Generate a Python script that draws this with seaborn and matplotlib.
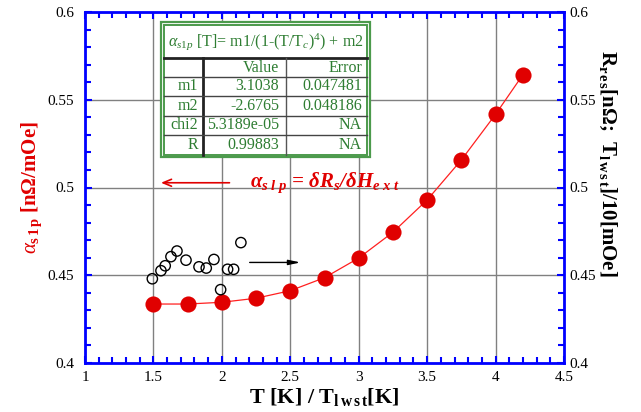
import numpy as np
import pandas as pd
import matplotlib
matplotlib.use("Agg")
import matplotlib.pyplot as plt
import seaborn as sns
from matplotlib.ticker import MultipleLocator
from matplotlib.patches import Rectangle

# ---------------- data ----------------
T_alpha = [1.5, 1.75, 2.0, 2.25, 2.5, 2.75, 3.0, 3.25, 3.5, 3.75, 4.0, 4.2]
alpha_slp = [0.4336, 0.4336, 0.4346, 0.4369, 0.4412, 0.4486, 0.4598, 0.4745,
             0.4929, 0.5157, 0.5417, 0.5643]
T_res = [1.492, 1.555, 1.586, 1.628, 1.672, 1.738, 1.833, 1.886, 1.942,
         1.991, 2.042, 2.086, 2.139]
R_res = [0.4480, 0.4526, 0.4554, 0.4606, 0.4638, 0.4586, 0.4548, 0.4541,
         0.4590, 0.4418, 0.4534, 0.4534, 0.4686]

x_ticks = [1, 1.5, 2, 2.5, 3, 3.5, 4, 4.5]
x_tick_labels = ["1", "1.5", "2", "2.5", "3", "3.5", "4", "4.5"]
y_ticks = [0.4, 0.45, 0.5, 0.55, 0.6]
y_tick_labels = ["0.4", "0.45", "0.5", "0.55", "0.6"]

fit_title = r"$\alpha_{s1p}$ [T]= m1/(1-(T/T$_c$)$^4$) + m2"
tbl_header = ["", "Value", "Error"]
tbl_names = ["m1", "m2", "chi2", "R"]
tbl_values = ["3.1038", "-2.6765", "5.3189e-05", "0.99883"]
tbl_errors = ["0.047481", "0.048186", "NA", "NA"]

# ---------------- style ----------------
plt.rcParams.update({
    "mathtext.fontset": "custom",
    "mathtext.rm": "Liberation Serif",
    "mathtext.it": "Liberation Serif:italic",
    "mathtext.bf": "Liberation Serif:bold",
    "mathtext.bfit": "Liberation Serif:italic:bold",
})
plt.rcParams["font.family"] = ["Liberation Serif", "DejaVu Serif"]

RED = "#e00000"
BLUE = "#0000ff"
GREEN = "#2e7d32"
GRID = "#808080"

W, H = 641, 412
fig = plt.figure(figsize=(W / 100, H / 100), dpi=100)
L, R_, T_, B_ = 85, 564, 12, 363
ax = fig.add_axes([L / W, 1 - B_ / H, (R_ - L) / W, (B_ - T_) / H])

df_a = pd.DataFrame({"T": T_alpha, "a": alpha_slp})
df_r = pd.DataFrame({"T": T_res, "r": R_res})

sns.lineplot(data=df_a, x="T", y="a", ax=ax, color="#ff2020", lw=0.9,
             zorder=3, legend=False)
sns.scatterplot(data=df_a, x="T", y="a", ax=ax, color=RED, s=135,
                edgecolor=RED, linewidth=0, zorder=4, legend=False)
sns.scatterplot(data=df_r, x="T", y="r", ax=ax, facecolor="none",
                edgecolor="black", s=55, linewidth=1.0, zorder=4, legend=False)

ax.set_xlim(1, 4.5)
ax.set_ylim(0.4, 0.6)
ax.set_xticks(x_ticks)
ax.set_xticklabels(x_tick_labels)
ax.set_yticks(y_ticks)
ax.set_yticklabels(y_tick_labels)
ax.xaxis.set_minor_locator(MultipleLocator(0.1))
ax.yaxis.set_minor_locator(MultipleLocator(0.01))
ax.grid(True, which="major", color=GRID, lw=1.0, zorder=0)
ax.set_axisbelow(True)
for sp in ax.spines.values():
    sp.set_color(BLUE)
    sp.set_linewidth(2)
ax.tick_params(which="both", direction="in", color=BLUE, width=1.5,
               top=True, right=True, labelsize=11, labelcolor="black")
ax.tick_params(which="major", length=5)
ax.tick_params(which="minor", length=4)
ax.tick_params(axis="y", pad=8)
ax.tick_params(axis="x", pad=6)

ax2 = ax.twinx()
ax2.set_ylim(0.4, 0.6)
ax2.set_yticks(y_ticks)
ax2.set_yticklabels(y_tick_labels)
ax2.yaxis.set_minor_locator(MultipleLocator(0.01))
ax2.tick_params(which="both", direction="in", color=BLUE, width=1.5,
                labelsize=11, pad=4)
ax2.tick_params(which="major", length=5)
ax2.tick_params(which="minor", length=4)
for sp in ax2.spines.values():
    sp.set_visible(False)

ax.set_xlabel(r"T [K] / T$_{\mathbf{l\,w\,s\,t}}$[K]", fontsize=16,
              fontweight="bold", labelpad=1)
ax.set_ylabel(r"$\alpha_{\mathbf{s\,1\,p}}$ [nΩ/mOe]", fontsize=15,
              fontweight="bold", color=RED, labelpad=2)
ax2.set_ylabel(r"R$_{\mathbf{r\,e\,s}}$[nΩ;  T$_{\mathbf{l\,w\,s\,t}}$]/10[mOe]",
               fontsize=15, fontweight="bold", rotation=270, labelpad=26)
ax2.yaxis.set_label_coords(1.115, 0.57)

# annotations
ax.annotate("", xy=(1.535, 0.5027), xytext=(2.076, 0.5027),
            arrowprops=dict(arrowstyle="->,head_length=0.6,head_width=0.25",
                            color=RED, lw=1.2))
ax.annotate("", xy=(2.595, 0.4573), xytext=(2.183, 0.4573),
            arrowprops=dict(arrowstyle="-|>,head_length=0.7,head_width=0.15",
                            color="black", lw=1.0))
ax.text(2.205, 0.5003,
        r"$\mathbfit{\alpha}_{\mathbfit{s\,\,l\,\,p}}$ = $\mathbfit{\delta R}_{\mathbfit{s}}\mathbfit{/\delta H}_{\mathbfit{e\,\,x\,\,t}}$",
        color=RED, fontsize=15, fontweight="bold", fontstyle="italic",
        va="baseline", ha="left", zorder=6)

# ---------------- fit table (pixel overlay) ----------------
ov = fig.add_axes([0, 0, 1, 1], zorder=10)
ov.set_xlim(0, W)
ov.set_ylim(H, 0)
ov.axis("off")
ov.add_patch(Rectangle((160.7, 21.7), 209.3, 135.6, fc="white",
                       ec="#4c9a4c", lw=1.6))
ov.add_patch(Rectangle((163.6, 24.5), 203.6, 130.0, fc="none",
                       ec="#4c9a4c", lw=1.4))
ov.plot([163.6, 367.2], [58.3, 58.3], color="#222222", lw=2.0)
ov.plot([203.3, 203.3], [58.3, 154.5], color="#222222", lw=2.0)
ov.plot([285.7, 285.7], [58.3, 154.5], color="#555555", lw=1.0)
for yy in [76.7, 96.0, 115.7, 135.0]:
    ov.plot([163.6, 367.2], [yy, yy], color="#444444", lw=1.0)

ov.text(266, 42, fit_title, color=GREEN, fontsize=11.5, ha="center",
        va="center")
row_y = [67.5, 86.3, 105.8, 125.3, 144.7]
ov.text(279, row_y[0], tbl_header[1], color=GREEN, fontsize=11.5,
        ha="right", va="center")
ov.text(362, row_y[0], tbl_header[2], color=GREEN, fontsize=11.5,
        ha="right", va="center")
for i in range(len(tbl_names)):
    ov.text(198, row_y[i + 1], tbl_names[i], color=GREEN, fontsize=11.5,
            ha="right", va="center")
    ov.text(279, row_y[i + 1], tbl_values[i], color=GREEN, fontsize=11.5,
            ha="right", va="center")
    ov.text(362, row_y[i + 1], tbl_errors[i], color=GREEN, fontsize=11.5,
            ha="right", va="center")

fig.savefig("out.png", dpi=100)
